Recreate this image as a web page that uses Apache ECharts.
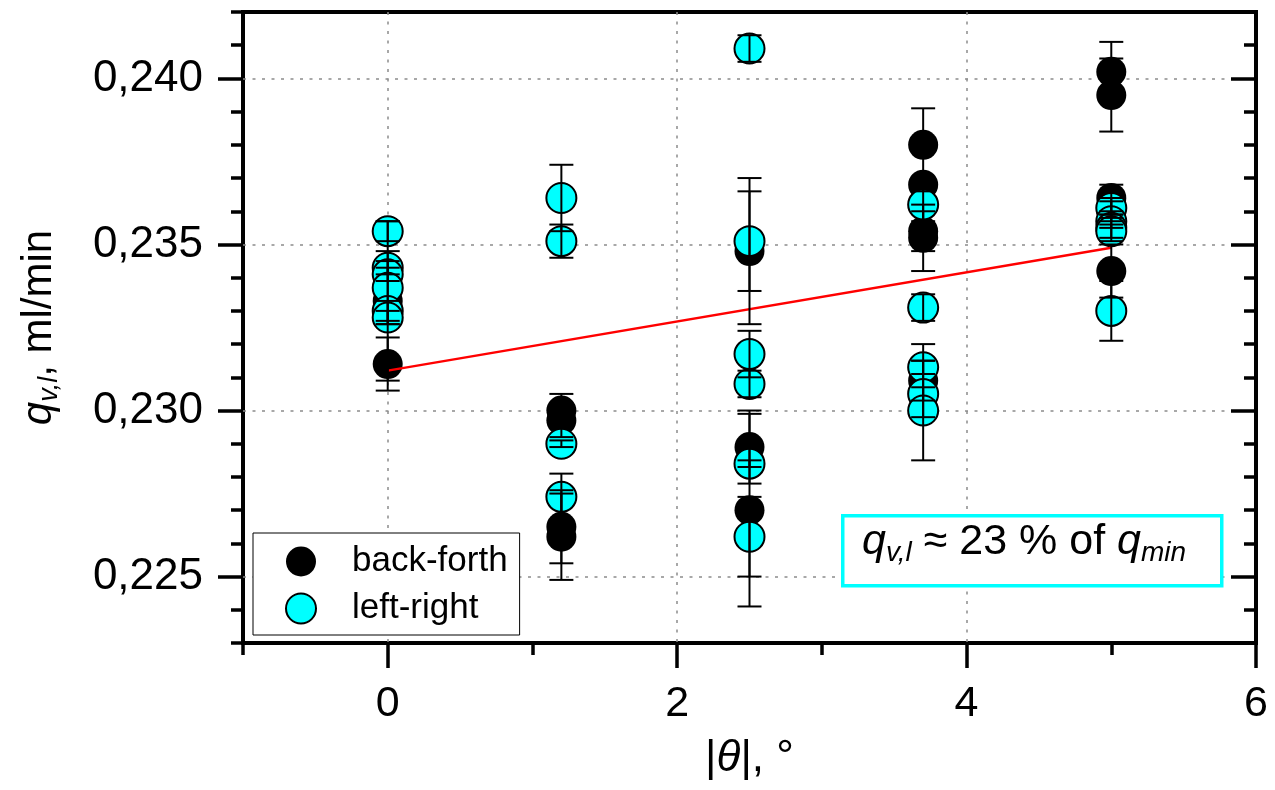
<!DOCTYPE html>
<html><head><meta charset="utf-8">
<script src="https://cdn.jsdelivr.net/npm/echarts@6/dist/echarts.min.js"></script>
<style>html,body{margin:0;padding:0;background:#fff}#c{width:1275px;height:790px}</style>
</head><body><div id="c"></div>
<script>
// ---- data ----
const bfTheta = [0, 0, 1.2, 1.2, 1.2, 1.2, 2.5, 2.5, 2.5, 3.7, 3.7, 3.7, 3.7, 3.7, 5, 5, 5, 5, 5];
const bfQ     = [0.2314, 0.2333, 0.2300, 0.2297, 0.2265, 0.2262, 0.2348, 0.2289, 0.2270, 0.2380, 0.2368, 0.2354, 0.2352, 0.2309, 0.2402, 0.2395, 0.2364, 0.2360, 0.2342];
const bfErr   = [0.0008, 0.0024, 0.0005, 0.0005, 0.0011, 0.0013, 0.0022, 0.0011, 0.0029, 0.0011, 0.0002, 0.0006, 0.0010, 0.0011, 0.0009, 0.0011, 0.0004, 0.0003, 0.0008];

const lrTheta = [0, 0, 0, 0, 0, 0, 1.2, 1.2, 1.2, 1.2, 2.5, 2.5, 2.5, 2.5, 2.5, 2.5, 3.7, 3.7, 3.7, 3.7, 3.7, 5, 5, 5, 5, 5];
const lrQ     = [0.2354, 0.2343, 0.2341, 0.2337, 0.2330, 0.2328, 0.2364, 0.2351, 0.2290, 0.2274, 0.2409, 0.2351, 0.2317, 0.2308, 0.2284, 0.2262, 0.2362, 0.2331, 0.2313, 0.2305, 0.2300, 0.2361, 0.2357, 0.2355, 0.2354, 0.2330];
const lrErr   = [0.0003, 0.0002, 0.0002, 0.0011, 0.0003, 0.0002, 0.0010, 0.0005, 0.0001, 0.0007, 0.0004, 0.0015, 0.0007, 0.0004, 0.0001, 0.0012, 0.0005, 0.0004, 0.0002, 0.0002, 0.0015, 0.0003, 0.0002, 0.0004, 0.0002, 0.0009];

const fitTheta = [0, 5];
const fitQ     = [0.2312, 0.2349];

const xMajorTicks = [0, 2, 4, 6];
const xMinorTicks = [-1, 1, 3, 5];
const yMajorTicks = [0.225, 0.230, 0.235, 0.240];
const yMinorTicks = [0.223, 0.224, 0.226, 0.227, 0.228, 0.229, 0.231, 0.232, 0.233, 0.234, 0.236, 0.237, 0.238, 0.239, 0.241, 0.242];

const FONT = '"Liberation Sans", Arial, sans-serif';

const pts = (xs, ys) => xs.map((x, i) => [x, ys[i]]);
const bars = (xs, ys, es) => xs.map((x, i) => [x, ys[i] - es[i], ys[i] + es[i]]);

function errRender(params, api) {
  const x = api.value(0), lo = api.value(1), hi = api.value(2);
  const p1 = api.coord([x, hi]), p2 = api.coord([x, lo]);
  const w = 12;
  const style = { stroke: '#000', lineWidth: 2 };
  return { type: 'group', children: [
    { type: 'line', shape: { x1: p1[0], y1: p1[1], x2: p2[0], y2: p2[1] }, style },
    { type: 'line', shape: { x1: p1[0] - w, y1: p1[1], x2: p1[0] + w, y2: p1[1] }, style },
    { type: 'line', shape: { x1: p2[0] - w, y1: p2[1], x2: p2[0] + w, y2: p2[1] }, style }
  ]};
}

const gridStyle = { color: '#8c8c8c', width: 1.5, type: [3, 6.5] };
const tickStyle = { color: '#000', width: 3.5 };
const noLine = { show: false, onZero: false };

const chart = echarts.init(document.getElementById('c'), null, { renderer: 'canvas' });
chart.setOption({
  animation: false,
  backgroundColor: '#fff',
  grid: { left: 243, right: 19, top: 12, bottom: 147, show: true, borderColor: '#000', borderWidth: 4, backgroundColor: 'transparent' },
  xAxis: [
    { type: 'value', min: -1, max: 6, position: 'bottom',
      axisLine: noLine,
      axisTick: { show: true, length: 25, lineStyle: tickStyle, customValues: xMajorTicks },
      axisLabel: { customValues: xMajorTicks, fontSize: 43, color: '#000', fontFamily: FONT, margin: 40 },
      splitLine: { show: true, showMinLine: true, showMaxLine: false, lineStyle: gridStyle },
      name: '|{t|θ}|, °', nameLocation: 'middle', nameGap: 94,
      nameTextStyle: { fontSize: 44, color: '#000', fontFamily: FONT, rich: { t: { fontSize: 44, fontStyle: 'italic', fontFamily: FONT, color: '#000' } } }
    },
    { type: 'value', min: -1, max: 6, position: 'bottom',
      axisLine: noLine,
      axisTick: { show: true, length: 12, lineStyle: tickStyle, customValues: xMinorTicks },
      axisLabel: { show: false }, splitLine: { show: false }
    }
  ],
  yAxis: [
    { type: 'value', min: 0.223, max: 0.242, position: 'left',
      axisLine: noLine,
      axisTick: { show: true, length: 25, lineStyle: tickStyle, customValues: yMajorTicks },
      axisLabel: { customValues: yMajorTicks, fontSize: 44, color: '#000', fontFamily: FONT, margin: 40,
        formatter: v => v.toFixed(3).replace('.', ',') },
      splitLine: { show: true, showMinLine: true, showMaxLine: true, lineStyle: gridStyle },
      name: '{q|q}{s|v,l}{n|, ml/min}', nameLocation: 'middle', nameRotate: 90, nameGap: 180,
      nameTextStyle: { color: '#000', fontFamily: FONT, rich: {
        q: { fontSize: 42, fontStyle: 'italic', fontFamily: FONT, color: '#000', lineHeight: 48, verticalAlign: 'middle' },
        s: { fontSize: 27, fontStyle: 'italic', fontFamily: FONT, color: '#000', lineHeight: 16, verticalAlign: 'bottom' },
        n: { fontSize: 42, fontFamily: FONT, color: '#000', lineHeight: 48, verticalAlign: 'middle' } } }
    },
    { type: 'value', min: 0.223, max: 0.242, position: 'left',
      axisLine: noLine,
      axisTick: { show: true, length: 12, lineStyle: tickStyle, customValues: yMinorTicks },
      axisLabel: { show: false }, splitLine: { show: false }
    },
    { type: 'value', min: 0.223, max: 0.242, position: 'right',
      axisLine: noLine,
      axisTick: { show: true, inside: true, length: 25, lineStyle: tickStyle, customValues: yMajorTicks },
      axisLabel: { show: false }, splitLine: { show: false }
    },
    { type: 'value', min: 0.223, max: 0.242, position: 'right',
      axisLine: noLine,
      axisTick: { show: true, inside: true, length: 12, lineStyle: tickStyle, customValues: yMinorTicks },
      axisLabel: { show: false }, splitLine: { show: false }
    }
  ],
  legend: {
    orient: 'vertical', left: 253, top: 533,
    data: ['back-forth', 'left-right'],
    itemWidth: 30, itemHeight: 30, itemGap: 12,
    padding: [11, 12, 9, 32],
    borderColor: '#000', borderWidth: 1, backgroundColor: '#fff',
    textStyle: { fontSize: 35, color: '#000', fontFamily: FONT, padding: [0, 0, 0, 31] }
  },
  series: [
    { name: 'back-forth', type: 'scatter', symbol: 'circle', symbolSize: 30, z: 2,
      itemStyle: { color: '#000', opacity: 1 },
      data: pts(bfTheta, bfQ) },
    { name: 'left-right', type: 'scatter', symbol: 'circle', symbolSize: 30, z: 3,
      itemStyle: { color: '#00ffff', borderColor: '#000', borderWidth: 2, opacity: 1 },
      data: pts(lrTheta, lrQ) },
    { name: 'fit', type: 'line', z: 4, symbol: 'none', silent: true,
      lineStyle: { color: '#ff0000', width: 2.4 },
      data: pts(fitTheta, fitQ) },
    { name: 'err-bf', type: 'custom', z: 5, renderItem: errRender, encode: { x: 0, y: [1, 2] },
      data: bars(bfTheta, bfQ, bfErr) },
    { name: 'err-lr', type: 'custom', z: 5, renderItem: errRender, encode: { x: 0, y: [1, 2] },
      data: bars(lrTheta, lrQ, lrErr) }
  ],
  graphic: [
    { type: 'rect', left: 841, top: 514, z: 100,
      shape: { width: 379, height: 70 },
      style: { fill: '#fff', stroke: '#00ffff', lineWidth: 3.5 } },
    { type: 'text', left: 862, top: 521, z: 101,
      style: {
        text: '{q|q}{s|v,l}{n| ≈ 23 % of }{q|q}{s|min}',
        rich: {
          q: { fontSize: 43, fontStyle: 'italic', fontFamily: FONT, fill: '#000', lineHeight: 50, verticalAlign: 'middle' },
          s: { fontSize: 28, fontStyle: 'italic', fontFamily: FONT, fill: '#000', lineHeight: 18, verticalAlign: 'bottom' },
          n: { fontSize: 43, fontFamily: FONT, fill: '#000', lineHeight: 50, verticalAlign: 'middle' }
        }
      } }
  ]
});
</script>
</body></html>
